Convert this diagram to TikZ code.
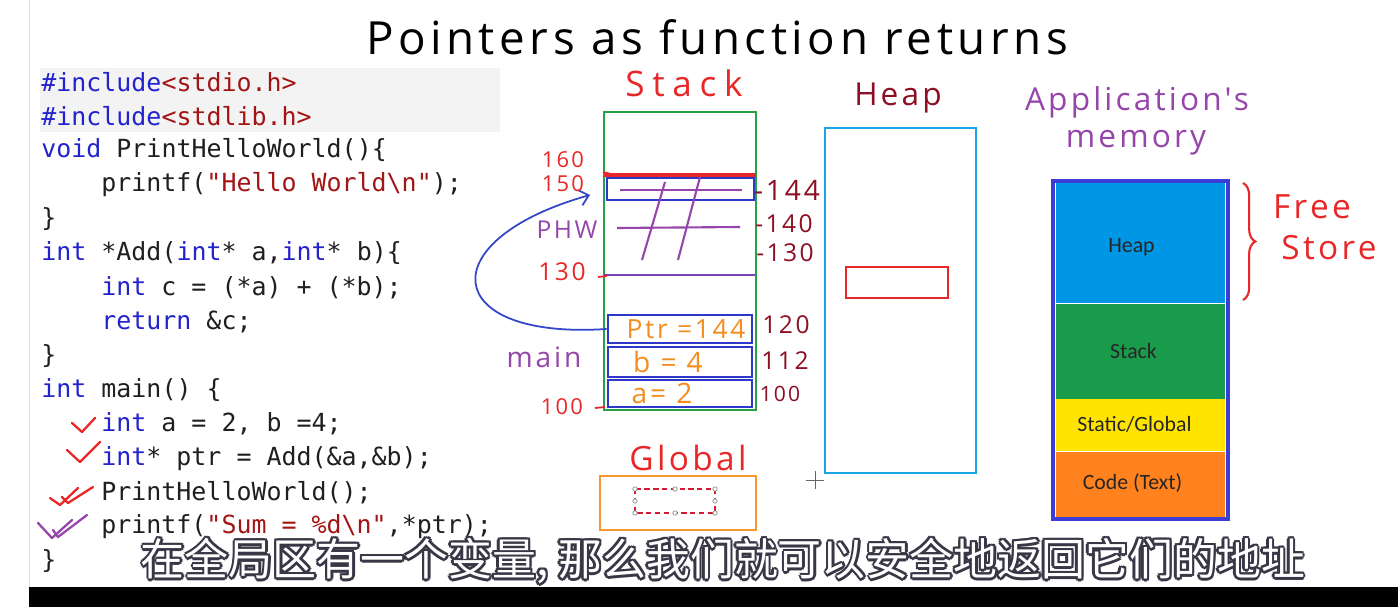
\documentclass[tikz,border=0pt]{standalone}
\usepackage{fontspec}
\usetikzlibrary{positioning,arrows.meta,decorations.pathreplacing}
\newfontfamily\codefont{DejaVu Sans Mono}
\newfontfamily\handfont[LetterSpace=10]{Open Sans}
\newfontfamily\widehandfont[LetterSpace=22]{Open Sans}
\newfontfamily\slidefont{Carlito}
\newfontfamily\cjkfont{Noto Sans CJK SC}
\definecolor{kw}{RGB}{35,35,205}
\definecolor{str}{RGB}{163,21,21}
\definecolor{hlgrey}{RGB}{243,243,243}
\definecolor{inkred}{RGB}{232,40,40}
\definecolor{inkmaroon}{RGB}{140,15,35}
\definecolor{inkpurple}{RGB}{150,70,170}
\definecolor{inkorange}{RGB}{245,140,30}
\definecolor{inkblue}{RGB}{50,70,200}
\definecolor{stackgreen}{RGB}{40,160,70}
\definecolor{slotblue}{RGB}{45,55,200}
\definecolor{heapcyan}{RGB}{25,165,225}
\definecolor{memborder}{RGB}{60,60,215}
\definecolor{memheap}{RGB}{0,150,230}
\definecolor{memstack}{RGB}{25,155,75}
\definecolor{memstatic}{RGB}{255,228,0}
\definecolor{memcode}{RGB}{255,130,30}
\definecolor{globorange}{RGB}{245,150,50}
\definecolor{subline}{RGB}{55,55,70}
\tikzset{
  code/.style={anchor=west,inner sep=0pt,text=black!88,font=\codefont\fontsize{14.2}{17}\selectfont},
  hand/.style={inner sep=0pt,font=\handfont\fontsize{#1}{#1}\selectfont},
  widehand/.style={inner sep=0pt,font=\widehandfont\fontsize{#1}{#1}\selectfont},
  slot/.style={draw=slotblue,line width=1.6pt,minimum width=2.88cm,inner sep=0pt},
  seg/.style={minimum width=3.38cm,inner sep=0pt},
  seglbl/.style={inner sep=0pt,text=black!85,font=\slidefont\fontsize{12.4}{14}\selectfont},
  tick/.style={line width=1.3pt,line join=round,line cap=round},
  sub/.style={inner sep=0pt,font=\cjkfont\fontsize{25}{27}\selectfont},
}
\begin{document}
\begin{tikzpicture}[x=0.02cm,y=-0.02cm,>={Straight Barb[length=5pt,width=9pt]}]
  \useasboundingbox (0,0) rectangle (1398,607);
  \fill[white] (0,0) rectangle (1398,607);
  \draw[black!12] (29,0) -- (29,587);
  \fill[hlgrey] (40,68) rectangle (500,132);
  \node[hand=26] (title) at (717,37) {Pointers as function returns};
  % code listing
  \node[code] (l1) at (41,82) {\textcolor{kw}{\#include}\textcolor{str}{<stdio.h>}};
  \node[code] (l2) at (41,116) {\textcolor{kw}{\#include}\textcolor{str}{<stdlib.h>}};
  \node[code] (l3) at (41,150) {\textcolor{kw}{void} PrintHelloWorld()\{};
  \node[code] (l4) at (101,185) {printf(\textcolor{str}{"Hello World\textbackslash n"});};
  \node[code] (l5) at (41,219) {\}};
  \node[code] (l6) at (41,253) {\textcolor{kw}{int} *Add(\textcolor{kw}{int}* a,\textcolor{kw}{int}* b)\{};
  \node[code] (l7) at (101,288) {\textcolor{kw}{int} c = (*a) + (*b);};
  \node[code] (l8) at (101,322) {\textcolor{kw}{return} \&c;};
  \node[code] (l9) at (41,356) {\}};
  \node[code] (l10) at (41,390) {\textcolor{kw}{int} main() \{};
  \node[code] (l11) at (101,424) {\textcolor{kw}{int} a = 2, b =4;};
  \node[code] (l12) at (101,459) {\textcolor{kw}{int}* ptr = Add(\&a,\&b);};
  \node[code] (l13) at (101,493) {PrintHelloWorld();};
  \node[code] (l14) at (101,527) {printf(\textcolor{str}{"Sum = \%d\textbackslash n"},*ptr);};
  \node[code] (l15) at (41,561) {\}};
  % ticks next to main
  \draw[tick,inkred] (72,423) -- (82,432) -- (95,418);
  \draw[tick,inkred] (67,450) -- (80,462) -- (100,442);
  \draw[tick,inkred] (50,498) -- (60,505) -- (78,488);
  \draw[tick,inkred] (62,497) -- (68,503) -- (93,487);
  \draw[tick,inkpurple] (38,523) -- (52,538) -- (72,520);
  \draw[tick,inkpurple] (53,530) -- (58,537) -- (87,515);
  % stack
  \node[widehand=20,inkred] (stacklbl) at (684,83) {Stack};
  \draw[stackgreen,line width=1.2pt] (604,112) rectangle (756,410);
  \draw[inkred,line width=1.8pt] (604,175) -- (756,175);
  \node[slot,minimum width=2.94cm,minimum height=0.44cm] (phw) at (680.5,189) {};
  \node[slot,minimum height=0.56cm] (ptr) at (680,329) {};
  \node[slot,minimum height=0.6cm] (b) at (680,362) {};
  \node[slot,minimum height=0.54cm] (a) at (680,393.5) {};
  \node[hand=15,inkorange] (ptrval) at (686,329) {Ptr =144};
  \node[hand=16,inkorange] (bval) at (668,362) {b = 4};
  \node[hand=16,inkorange] (aval) at (662,393) {a= 2};
  \draw[inkpurple!75!slotblue,line width=1.5pt] (604,275) -- (755,275);
  \draw[inkpurple,line width=1.2pt] (620,190) -- (742,190);
  \draw[inkpurple,line width=1.2pt] (617,228) -- (740,227);
  \draw[inkpurple,line width=1.2pt] (665,182) -- (642,260);
  \draw[inkpurple,line width=1.2pt] (700,177) -- (678,260);
  \draw[inkred,line width=1pt] (603,172) -- (615,175);
  \draw[inkred,line width=1pt] (598,277) -- (607,276);
  \draw[inkred,line width=1pt] (595,408) -- (605,407);
  \coordinate (hwtip) at (590,195);
  \draw[inkblue,line width=1pt,->] (ptr.west) .. controls (440,340) and (430,240) .. (hwtip);
  \node[hand=12.5,inkred] (a160) at (563,160) {160};
  \node[hand=12.5,inkred] (a150) at (563,184) {150};
  \node[hand=14,inkpurple] (phwlbl) at (567,230) {PHW};
  \node[hand=14,inkred] (a130l) at (562,272) {130};
  \node[hand=16,inkpurple] (mainlbl) at (544,357) {main};
  \node[hand=12.5,inkred] (a100l) at (562,407) {100};
  \node[hand=16,inkmaroon] (a144) at (787,190) {-144};
  \node[hand=14,inkmaroon] (a140) at (784,224) {-140};
  \node[hand=14,inkmaroon] (a130) at (785,253) {-130};
  \node[hand=14,inkmaroon] (a120) at (786,325) {120};
  \node[hand=14,inkmaroon] (a112) at (785,361) {112};
  \node[hand=12,inkmaroon] (a100) at (780,394) {100};
  % global
  \node[hand=19,inkred] (globallbl) at (688,458) {Global};
  \draw[globorange,line width=1.3pt] (600,476) rectangle (756,530);
  \draw[inkred!60!purple,densely dashed,line width=0.8pt] (635,489) rectangle (715,513);
  \foreach \hx/\hy in {635/489,675/489,715/489,635/501,715/501,635/513,675/513,715/513}
    \draw[black!45,fill=white,line width=0.4pt] (\hx,\hy) circle (2.2);
  % heap
  \node[hand=18,inkmaroon] (heaplbl) at (898,98) {Heap};
  \draw[heapcyan,line width=1.6pt] (825,128) rectangle (976,473);
  \draw[inkred,line width=1.2pt] (846,267) rectangle (948,298);
  \draw[black!60,line width=0.5pt] (806,480) -- (824,480) (815,471) -- (815,489);
  % application memory
  \node[hand=18,inkpurple] (applbl) at (1137,102) {Application's};
  \node[hand=18,inkpurple] (memlbl) at (1136,143) {memory};
  \node[seg,fill=memheap,minimum height=2.4cm] (mheap) at (1140.5,243) {};
  \node[seg,fill=memstack,minimum height=1.9cm,below=0pt of mheap] (mstack) {};
  \node[seg,fill=memstatic,minimum height=1.04cm,below=0pt of mstack] (mstatic) {};
  \node[seg,fill=memcode,minimum height=1.34cm,below=0pt of mstatic] (mcode) {};
  \node[seglbl] (mheaplbl) at ([xshift=-0.18cm,yshift=-0.08cm]mheap.center) {Heap};
  \node[seglbl] (mstacklbl) at ([xshift=-0.14cm]mstack.center) {Stack};
  \node[seglbl] (mstaticlbl) at ([xshift=-0.12cm,yshift=0.02cm]mstatic.center) {Static/Global};
  \node[seglbl] (mcodelbl) at ([xshift=-0.16cm,yshift=0.06cm]mcode.center) {Code (Text)};
  \draw[memborder,line width=2.3pt] (1053,181) rectangle (1228,519);
  \draw[inkred,line width=1.2pt,decorate,decoration={brace,amplitude=7pt}] (1243,183) -- (1243,300);
  \node[hand=19,inkred] (freelbl) at (1312,207) {Free};
  \node[hand=19,inkred] (storelbl) at (1329,248) {Store};
  % subtitle
  \foreach \dx/\dy in {-2.5/0,2.5/0,0/-2.5,0/2.5,-1.8/-1.8,1.8/-1.8,-1.8/1.8,1.8/1.8}
    \node[sub,text=subline] at (723+\dx,561+\dy) {在全局区有一个变量, 那么我们就可以安全地返回它们的地址};
  \node[sub,text=white] (subtitle) at (723,561) {在全局区有一个变量, 那么我们就可以安全地返回它们的地址};
  \fill[black] (29,587) rectangle (1398,607);
\end{tikzpicture}
\end{document}
